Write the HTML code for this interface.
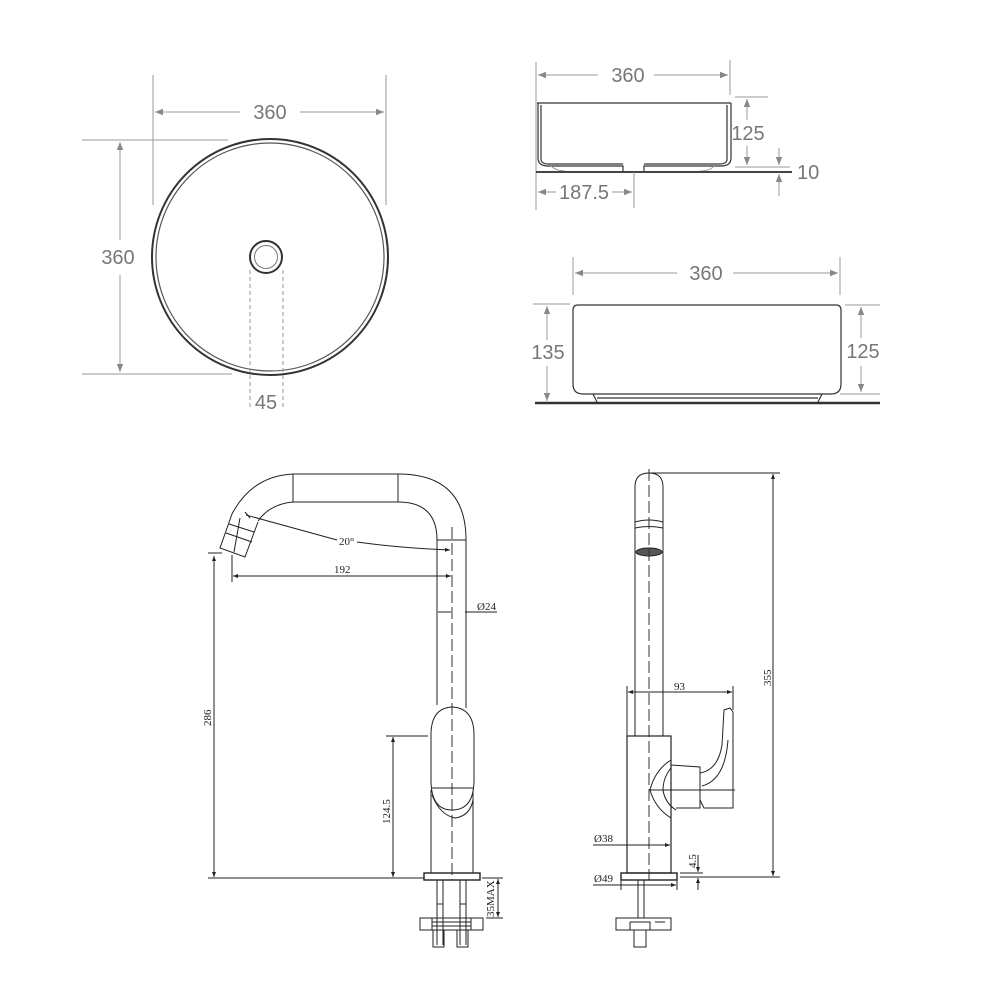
<!DOCTYPE html>
<html><head><meta charset="utf-8"><style>
html,body{margin:0;padding:0;background:#fff}
svg{display:block}
.g{stroke:#999;stroke-width:1;fill:none}
.k{stroke:#333;stroke-width:1.2;fill:none}
.d{stroke:#222;stroke-width:1;fill:none}
.t{font-family:"Liberation Sans",sans-serif;font-size:20px;fill:#777}
.s{font-family:"Liberation Serif",serif;font-size:11px;fill:#222}
</style></head><body>
<svg width="1000" height="1000" viewBox="0 0 1000 1000" xmlns="http://www.w3.org/2000/svg">
<defs>
<marker id="a" viewBox="0 0 10 10" refX="10" refY="5" markerWidth="10" markerHeight="8" orient="auto-start-reverse" markerUnits="userSpaceOnUse"><path d="M0,1 L10,5 L0,9 z" fill="#888"/></marker>
<marker id="b" viewBox="0 0 10 10" refX="10" refY="5" markerWidth="7" markerHeight="5" orient="auto-start-reverse" markerUnits="userSpaceOnUse"><path d="M0,1 L10,5 L0,9 z" fill="#222"/></marker>
</defs>

<!-- Round basin -->
<circle cx="270" cy="257" r="118" fill="none" stroke="#333" stroke-width="2"/>
<circle cx="270" cy="257" r="114" fill="none" stroke="#555" stroke-width="1.2"/>
<circle cx="266" cy="257" r="16" fill="none" stroke="#333" stroke-width="2"/>
<circle cx="266" cy="257" r="11.5" fill="none" stroke="#777" stroke-width="1"/>
<line class="g" x1="153" y1="75" x2="153" y2="205"/>
<line class="g" x1="386" y1="75" x2="386" y2="205"/>
<line class="g" x1="155" y1="112" x2="240" y2="112" marker-start="url(#a)"/>
<line class="g" x1="300" y1="112" x2="384" y2="112" marker-end="url(#a)"/>
<text class="t" x="270" y="119" text-anchor="middle">360</text>
<line class="g" x1="82" y1="140" x2="228" y2="140"/>
<line class="g" x1="82" y1="374" x2="232" y2="374"/>
<line class="g" x1="120" y1="142" x2="120" y2="240" marker-start="url(#a)"/>
<line class="g" x1="120" y1="275" x2="120" y2="372" marker-end="url(#a)"/>
<text class="t" x="118" y="264" text-anchor="middle">360</text>
<line class="g" x1="250" y1="270" x2="250" y2="410" stroke-dasharray="4,3"/>
<line class="g" x1="283" y1="270" x2="283" y2="410" stroke-dasharray="4,3"/>
<text class="t" x="266" y="409" text-anchor="middle">45</text>

<!-- Top-right basin -->
<line class="g" x1="536" y1="62" x2="536" y2="210"/>
<line class="g" x1="730" y1="60" x2="730" y2="95"/>
<line class="g" x1="538" y1="75" x2="598" y2="75" marker-start="url(#a)"/>
<line class="g" x1="654" y1="75" x2="728" y2="75" marker-end="url(#a)"/>
<text class="t" x="628" y="82" text-anchor="middle">360</text>
<path class="k" stroke-width="1.8" d="M537,103 L731,103 M538,103 L538,158 Q538,166 548,166 L623,166 L623,172 M731,103 L731,158 Q731,166 721,166 L644,166 L644,172 M541,105 L541,160 Q542,164 548,164 L623,164 M727,105 L727,160 Q726,164 720,164 L644,164"/>
<path class="g" d="M551,166 Q556,171 565,171 M714,166 Q710,171 700,171"/>
<line x1="536" y1="172" x2="792" y2="172" stroke="#444" stroke-width="2"/>
<line class="g" x1="735" y1="97" x2="768" y2="97"/>
<line class="g" x1="735" y1="167" x2="790" y2="167"/>
<line class="g" x1="747" y1="99" x2="747" y2="120" marker-start="url(#a)"/>
<line class="g" x1="747" y1="146" x2="747" y2="165" marker-end="url(#a)"/>
<text class="t" x="748" y="140" text-anchor="middle">125</text>
<line class="g" x1="779" y1="148" x2="779" y2="165" marker-end="url(#a)"/>
<line class="g" x1="779" y1="196" x2="779" y2="174" marker-end="url(#a)"/>
<text class="t" x="797" y="179">10</text>
<line class="g" x1="634" y1="172" x2="634" y2="208"/>
<line class="g" x1="538" y1="192" x2="556" y2="192" marker-start="url(#a)"/>
<line class="g" x1="612" y1="192" x2="632" y2="192" marker-end="url(#a)"/>
<text class="t" x="584" y="199" text-anchor="middle">187.5</text>

<!-- Second basin -->
<line class="g" x1="573" y1="257" x2="573" y2="295"/>
<line class="g" x1="840" y1="257" x2="840" y2="295"/>
<line class="g" x1="575" y1="273" x2="677" y2="273" marker-start="url(#a)"/>
<line class="g" x1="733" y1="273" x2="838" y2="273" marker-end="url(#a)"/>
<text class="t" x="706" y="280" text-anchor="middle">360</text>
<path class="k" stroke-width="1.6" d="M578,305 L836,305 Q841,305 841,310 L841,384 Q841,394 831,394 L583,394 Q573,394 573,384 L573,310 Q573,305 578,305 Z"/>
<path class="k" d="M593,394 L597,402 M822,394 L818,402 M597,398 L818,398"/>
<line x1="535" y1="403" x2="880" y2="403" stroke="#333" stroke-width="2.5"/>
<line class="g" x1="533" y1="304" x2="570" y2="304"/>
<line class="g" x1="547" y1="306" x2="547" y2="340" marker-start="url(#a)"/>
<line class="g" x1="547" y1="366" x2="547" y2="401" marker-end="url(#a)"/>
<text class="t" x="548" y="359" text-anchor="middle">135</text>
<line class="g" x1="845" y1="305" x2="880" y2="305"/>
<line class="g" x1="840" y1="394" x2="880" y2="394"/>
<line class="g" x1="861" y1="307" x2="861" y2="338" marker-start="url(#a)"/>
<line class="g" x1="861" y1="366" x2="861" y2="392" marker-end="url(#a)"/>
<text class="t" x="863" y="358" text-anchor="middle">125</text>

<!-- Front faucet -->
<path class="d" stroke-width="1.2" d="M466,708 L466,540 Q466,474 398,474 L293,474 Q252,476 232,514 M437,705 L437,540 Q437,502 398,502 L293,502 Q270,504 258,521"/>
<line class="d" x1="293" y1="474" x2="293" y2="502"/>
<line class="d" x1="398" y1="474" x2="398" y2="502"/>
<line class="d" x1="437" y1="540" x2="466" y2="540"/>
<path class="d" d="M232,514 L220,548 L245,557 L258,522 M229,524 L254,532 M226,533 L252,542 M240,518 L234,552"/>
<line x1="452" y1="527" x2="452" y2="880" stroke="#333" stroke-width="1" stroke-dasharray="12,4"/>
<path class="d" d="M246,515 Q300,530 337,540 M357,542 Q400,548 450,550" marker-end="url(#b)"/>
<line class="d" x1="245" y1="512" x2="250" y2="518"/>
<text class="s" x="339" y="545">20°</text>
<line class="d" x1="232" y1="555" x2="232" y2="582"/>
<line class="d" x1="233" y1="576" x2="451" y2="576" marker-start="url(#b)" marker-end="url(#b)"/>
<text class="s" x="334" y="573">192</text>
<line class="d" x1="438" y1="612" x2="451" y2="612"/>
<line class="d" x1="465" y1="612" x2="497" y2="612"/>
<text class="s" x="477" y="610">Ø24</text>
<path class="d" stroke-width="1.3" d="M431,735 Q431,708 452,707 Q474,708 474,735 L474,780 Q474,810 452,810 Q431,810 431,780 Z"/>
<path class="d" d="M431,790 L431,873 M473,790 L473,873 M431,788 L474,788"/>
<path class="d" d="M432,795 Q440,815 455,818 Q470,816 473,800"/>
<rect x="424" y="873" width="56" height="7" fill="none" stroke="#222" stroke-width="1.4"/>
<line class="d" x1="208" y1="878" x2="424" y2="878"/>
<line class="d" x1="214" y1="556" x2="214" y2="877" marker-start="url(#b)" marker-end="url(#b)"/>
<line class="d" x1="208" y1="553" x2="222" y2="553"/>
<text class="s" transform="translate(211,726) rotate(-90)">286</text>
<line class="d" x1="386" y1="736" x2="428" y2="736"/>
<line class="d" x1="393" y1="737" x2="393" y2="877" marker-start="url(#b)" marker-end="url(#b)"/>
<text class="s" transform="translate(390,824) rotate(-90)">124.5</text>
<line class="d" x1="482" y1="878" x2="503" y2="878"/>
<line class="d" x1="486" y1="918" x2="503" y2="918"/>
<line class="d" x1="498" y1="879" x2="498" y2="917" marker-start="url(#b)" marker-end="url(#b)"/>
<text class="s" transform="translate(494,917) rotate(-90)" font-size="9">35MAX</text>
<path class="d" d="M437,880 L437,945 M443,880 L443,945 M460,880 L460,945 M466,880 L466,945 M437,904 L443,904 M460,904 L466,904"/>
<rect x="420" y="918" width="63" height="12" fill="none" stroke="#222"/>
<path class="d" d="M432,918 L432,930 M471,918 L471,930 M432,922 L471,922 M432,926 L471,926"/>
<rect x="433" y="930" width="11" height="17" fill="none" stroke="#222"/>
<rect x="457" y="930" width="11" height="17" fill="none" stroke="#222"/>

<!-- Side faucet -->
<path class="d" stroke-width="1.2" d="M635,736 L635,487 Q635,473 649,473 Q663,473 663,487 L663,736"/>
<path class="d" d="M635,522 Q649,518 663,522 M635,528 Q649,525 663,528"/>
<ellipse cx="649" cy="552" rx="13" ry="4" fill="#555" stroke="#222"/>
<line x1="649" y1="469" x2="649" y2="880" stroke="#333" stroke-width="1" stroke-dasharray="12,4"/>
<rect x="627" y="736" width="44" height="137" fill="none" stroke="#222" stroke-width="1.2"/>
<path class="d" d="M671,760 Q655,770 650,790 Q655,808 671,818 M671,768 Q663,778 663,790 Q665,803 676,810 M671,765 L700,767 L700,808 L676,808 M650,790 L735,790"/>
<path class="d" d="M700,773 Q718,770 722,745 L724,710 L730,708 L733,712 L733,808 L704,808 L700,800"/>
<path class="d" d="M702,786 Q725,780 728,740"/>
<rect x="621" y="873" width="56" height="7" fill="none" stroke="#222" stroke-width="1.4"/>
<line class="d" x1="649" y1="473" x2="780" y2="473"/>
<line class="d" x1="680" y1="877" x2="780" y2="877"/>
<line class="d" x1="773" y1="474" x2="773" y2="876" marker-start="url(#b)" marker-end="url(#b)"/>
<text class="s" transform="translate(771,686) rotate(-90)">355</text>
<line class="d" x1="627" y1="686" x2="627" y2="736"/>
<line class="d" x1="733" y1="686" x2="733" y2="710"/>
<line class="d" x1="628" y1="692" x2="732" y2="692" marker-start="url(#b)" marker-end="url(#b)"/>
<text class="s" x="674" y="690">93</text>
<line class="d" x1="593" y1="845" x2="670" y2="845" marker-end="url(#b)"/>
<text class="s" x="594" y="842">Ø38</text>
<line class="d" x1="593" y1="885" x2="676" y2="885" marker-end="url(#b)"/>
<line class="d" x1="621" y1="880" x2="621" y2="890"/>
<line class="d" x1="677" y1="880" x2="677" y2="890"/>
<text class="s" x="594" y="882">Ø49</text>
<line class="d" x1="680" y1="873" x2="703" y2="873"/>
<line class="d" x1="698" y1="855" x2="698" y2="872" marker-end="url(#b)"/>
<line class="d" x1="698" y1="890" x2="698" y2="878" marker-end="url(#b)"/>
<text class="s" transform="translate(696,868) rotate(-90)" font-size="9">4.5</text>
<path class="d" d="M638,880 L638,918 M644,880 L644,918"/>
<rect x="616" y="918" width="55" height="12" fill="none" stroke="#222"/>
<path class="d" d="M630,922 L650,922 L650,930 M630,922 L630,930 M655,922 L665,922"/>
<rect x="634" y="930" width="12" height="17" fill="none" stroke="#222"/>
</svg>
</body></html>
